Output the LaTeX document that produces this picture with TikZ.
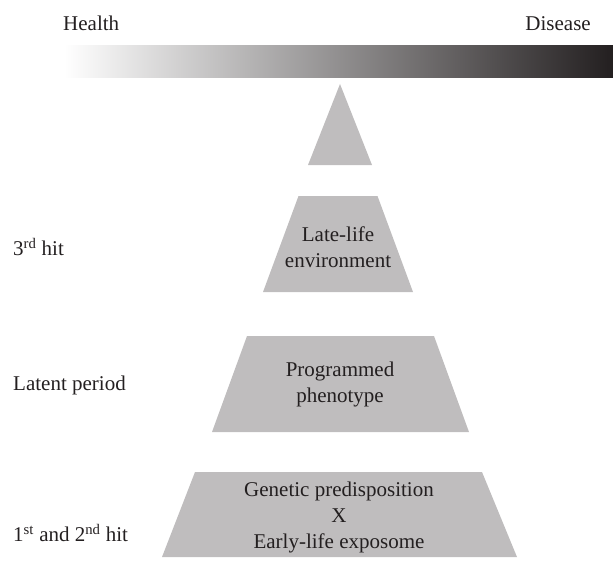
\documentclass[tikz,border=0pt]{standalone}
\usepackage{fontspec}
\setmainfont{Liberation Serif}
\definecolor{ink}{RGB}{35,31,32}
\definecolor{shapegray}{RGB}{191,189,190}
\begin{document}
\begin{tikzpicture}[x=1pt,y=-1pt,
  lbl/.style={font=\fontsize{21}{26}\selectfont, text=ink, inner sep=0pt},
  inlbl/.style={lbl, align=center},
  sidelbl/.style={lbl, anchor=west},
  block/.style={fill=shapegray}]
\useasboundingbox (0,0) rectangle (613,567);
% gradient bar
\shade[left color=white, right color=ink] (64,46) rectangle (613,78);
\node[lbl, anchor=base west] (health) at (63,31) {Health};
\node[lbl, anchor=base east] (disease) at (591,31) {Disease};
% pyramid blocks
\fill[block] (308,165) -- (340,84) -- (372,165) -- cycle;
\fill[block] (263,292) -- (298.5,196) -- (377.5,196) -- (413,292) -- cycle;
\fill[block] (212,432) -- (247,336) -- (434,336) -- (469,432) -- cycle;
\fill[block] (162,557) -- (195,472) -- (482,472) -- (517,557) -- cycle;
% block texts
\node[inlbl] (late) at (338,247) {Late-life\\environment};
\node[inlbl] (prog) at (340,384.5) {Programmed\\phenotype};
\node[inlbl] (gen) at (339,517) {Genetic predisposition\\X\\Early-life exposome};
% side labels
\node[sidelbl] (third) at (13,247) {3\textsuperscript{rd} hit};
\node[sidelbl] (latent) at (13,385) {Latent period};
\node[sidelbl] (first) at (13,533) {1\textsuperscript{st} and 2\textsuperscript{nd} hit};
\end{tikzpicture}
\end{document}
